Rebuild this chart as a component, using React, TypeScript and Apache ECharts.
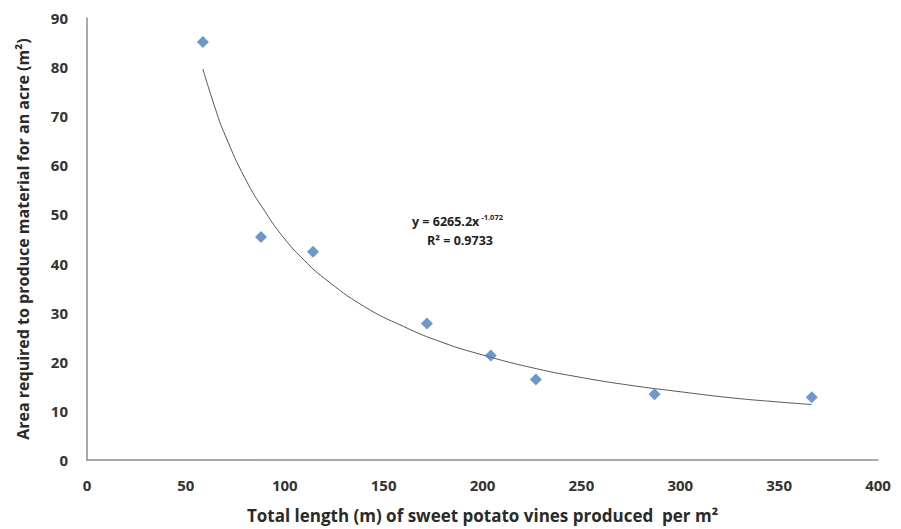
import React, { useEffect, useRef } from "react";
import * as echarts from "echarts";

const xValues = [58.6, 88, 114.3, 171.9, 204.2, 227, 287, 366.5];
const yValues = [85.1, 45.4, 42.4, 27.8, 21.3, 16.4, 13.4, 12.8];

// trend line points
const trendX = [58.6, 65, 70, 80, 90, 100, 110, 120, 140, 160, 180, 200, 225, 250, 275, 300, 325, 350, 366.5];
const trendY = [79.6, 71.4, 66.0, 57.3, 50.6, 45.0, 40.6, 37.0, 31.3, 27.2, 23.9, 21.4, 18.8, 16.8, 15.2, 13.9, 12.7, 11.8, 11.3];

const xTicks = { min: 0, max: 400, interval: 50 };
const yTicks = { min: 0, max: 90, interval: 10 };

const equationText = "y = 6265.2x";
const equationExp = "-1.072";
const r2Text = "R² = 0.9733";
const xTitle = "Total length (m) of sweet potato vines produced  per m²";
const yTitle = "Area required to produce material for an acre (m²)";

export default function App() {
  const ref = useRef<HTMLDivElement>(null);
  useEffect(() => {
    document.body.style.margin = "0";
    const chart = echarts.init(ref.current!, null, { renderer: "svg" });
    const font = "'Open Sans', Lato, sans-serif";
    chart.setOption({
      animation: false,
      backgroundColor: "#ffffff",
      grid: { left: 87, right: 23, top: 18, bottom: 67 },
      xAxis: {
        type: "value",
        min: xTicks.min,
        max: xTicks.max,
        interval: xTicks.interval,
        splitLine: { show: false },
        axisTick: { show: false },
        axisLine: { lineStyle: { color: "#8c8c8c", width: 1.5 } },
        axisLabel: { color: "#333", fontWeight: "bold", fontSize: 15, fontFamily: font, margin: 17 },
        name: xTitle,
        nameLocation: "middle",
        nameGap: 47,
        nameTextStyle: { color: "#2a2a2a", fontWeight: "bold", fontSize: 17, fontFamily: font },
      },
      yAxis: {
        type: "value",
        min: yTicks.min,
        max: yTicks.max,
        interval: yTicks.interval,
        splitLine: { show: false },
        axisTick: { show: false },
        axisLine: { show: true, lineStyle: { color: "#8c8c8c", width: 1.5 } },
        axisLabel: { color: "#333", fontWeight: "bold", fontSize: 15, fontFamily: font, margin: 19 },
        name: yTitle,
        nameLocation: "middle",
        nameGap: 56,
        nameTextStyle: { color: "#2a2a2a", fontWeight: "bold", fontSize: 16, fontFamily: font },
      },
      series: [
        {
          type: "line",
          data: trendX.map((x, i) => [x, trendY[i]]),
          smooth: true,
          showSymbol: false,
          symbol: "none",
          lineStyle: { color: "#555", width: 1 },
          z: 1,
        },
        {
          type: "scatter",
          data: xValues.map((x, i) => [x, yValues[i]]),
          symbol: "diamond",
          symbolSize: 12,
          itemStyle: { color: "#4a7ebb" },
          z: 2,
        },
      ],
      graphic: [
        {
          type: "text",
          left: 412,
          top: 213,
          style: {
            text: `{a|${equationText}}{b|${equationExp}}`,
            rich: {
              a: { fontSize: 12.5, fontWeight: "bold", fontFamily: font, fill: "#222" },
              b: { fontSize: 7.5, fontWeight: "bold", fontFamily: font, fill: "#222", verticalAlign: "top", padding: [0, 0, 8, 2] },
            },
          },
        },
        {
          type: "text",
          left: 427,
          top: 234,
          style: { text: r2Text, fontSize: 12.5, fontWeight: "bold", fontFamily: font, fill: "#222" },
        },
      ],
    });
    return () => chart.dispose();
  }, []);
  return <div ref={ref} style={{ width: 901, height: 529 }} />;
}
